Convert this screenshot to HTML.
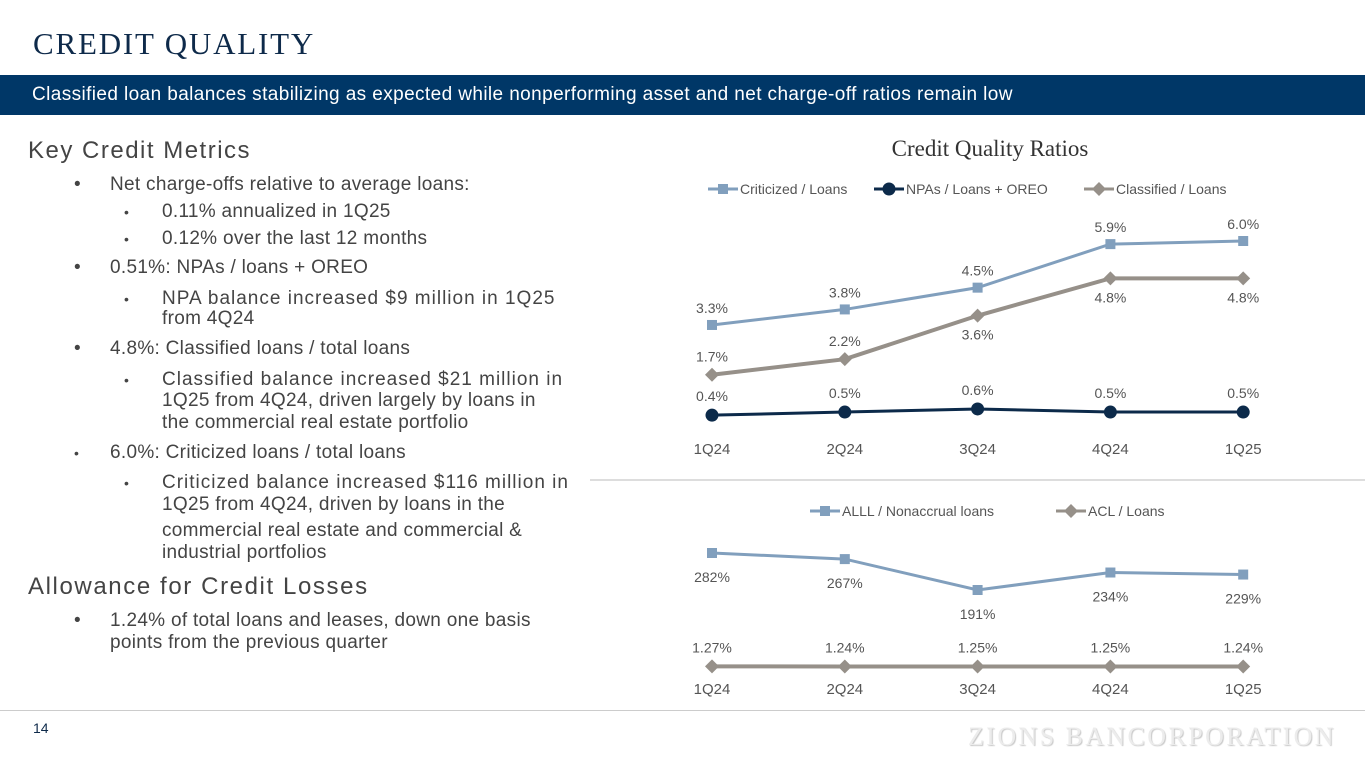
<!DOCTYPE html>
<html><head><meta charset="utf-8"><style>
body{margin:0;width:1365px;height:768px;position:relative;overflow:hidden;background:#fff;font-family:"Liberation Sans",sans-serif}
.t{position:absolute;white-space:nowrap;color:#444;font-size:19px;line-height:22px;letter-spacing:0.3px}
.w{letter-spacing:1px}
h1{position:absolute;left:33px;top:26px;margin:0;font-family:"Liberation Serif",serif;font-weight:normal;font-size:31px;color:#0e2a4a;letter-spacing:1.8px}
</style></head><body>
<h1>CREDIT QUALITY</h1>
<div style="position:absolute;left:0;top:75px;width:1365px;height:40px;background:#003767;color:#fff;font-size:19px;letter-spacing:0.4px;line-height:40px;padding-left:32px;box-sizing:border-box;white-space:nowrap">Classified loan balances stabilizing as expected while nonperforming asset and net charge-off ratios remain low</div>
<div>
<div class="t" style="left:28px;top:137px;font-size:24px;line-height:28px;letter-spacing:1.5px">Key Credit Metrics</div>
<div class="t" style="left:74px;top:174px">•</div><div class="t" style="left:110px;top:174px">Net charge-offs relative to average loans:</div>
<div class="t" style="left:124px;top:201px;font-size:14px">•</div><div class="t" style="left:162px;top:201px">0.11% annualized in 1Q25</div>
<div class="t" style="left:124px;top:228px;font-size:14px">•</div><div class="t" style="left:162px;top:228px">0.12% over the last 12 months</div>
<div class="t" style="left:74px;top:257px">•</div><div class="t" style="left:110px;top:257px">0.51%: NPAs / loans + OREO</div>
<div class="t" style="left:124px;top:288px;font-size:14px">•</div><div class="t w" style="left:162px;top:288px">NPA balance increased $9 million in 1Q25</div>
<div class="t" style="left:162px;top:308px">from 4Q24</div>
<div class="t" style="left:74px;top:338px">•</div><div class="t" style="left:110px;top:338px">4.8%: Classified loans / total loans</div>
<div class="t" style="left:124px;top:369px;font-size:14px">•</div><div class="t w" style="left:162px;top:369px">Classified balance increased $21 million in</div>
<div class="t" style="left:162px;top:390px">1Q25 from 4Q24, driven largely by loans in</div>
<div class="t" style="left:162px;top:412px">the commercial real estate portfolio</div>
<div class="t" style="left:74px;top:442px;font-size:14px">•</div><div class="t" style="left:110px;top:442px">6.0%: Criticized loans / total loans</div>
<div class="t" style="left:124px;top:472px;font-size:14px">•</div><div class="t w" style="left:162px;top:472px">Criticized balance increased $116 million in</div>
<div class="t" style="left:162px;top:494px">1Q25 from 4Q24, driven by loans in the</div>
<div class="t" style="left:162px;top:520px">commercial real estate and commercial &amp;</div>
<div class="t" style="left:162px;top:542px">industrial portfolios</div>
<div class="t" style="left:28px;top:573px;font-size:24px;line-height:28px;letter-spacing:1.6px">Allowance for Credit Losses</div>
<div class="t" style="left:74px;top:610px">•</div><div class="t" style="left:110px;top:610px">1.24% of total loans and leases, down one basis</div>
<div class="t" style="left:110px;top:632px">points from the previous quarter</div>
</div>
<div style="position:absolute;left:590px;top:479px;width:775px;height:2px;background:#ddd"></div>
<div style="position:absolute;left:0;top:710px;width:1365px;height:1px;background:#ccc"></div>
<div style="position:absolute;left:33px;top:720px;font-size:14px;color:#0e2a4a">14</div>
<div style="position:absolute;left:968px;top:722px;font-family:'Liberation Serif',serif;font-size:26px;color:#ececec;letter-spacing:2.4px;text-shadow:1px 1px 1px #c8c8c8">ZIONS BANCORPORATION</div>
<svg id="ch" style="position:absolute;left:0;top:0" width="1365" height="768"></svg>
<script>
const categories=["1Q24","2Q24","3Q24","4Q24","1Q25"];
const criticized=[3.3,3.8,4.5,5.9,6.0];
const npas=[0.4,0.5,0.6,0.5,0.5];
const classified=[1.7,2.2,3.6,4.8,4.8];
const alll=[282,267,191,234,229];
const acl=[1.27,1.24,1.25,1.25,1.24];
const svg=document.getElementById('ch');const NS='http://www.w3.org/2000/svg';
function x(i){return 712+i*132.8;}
function yTop(v){return 427.6-v*31.1;}
function yAlll(v){return 553-(v-282)*0.4066;}
function yAcl(v){return 666.5-(v-1.24)*5;}
function el(t,a,p){const e=document.createElementNS(NS,t);for(const k in a)e.setAttribute(k,a[k]);(p||svg).appendChild(e);return e;}
function txt(s,X,Y,o){const e=el('text',Object.assign({x:X,y:Y,'font-size':14,fill:'#555','text-anchor':'middle','font-family':'Liberation Sans, sans-serif'},o||{}));e.textContent=s;return e;}
const title=txt('Credit Quality Ratios',990,156,{'font-size':23,fill:'#333','font-family':'Liberation Serif, serif'});


function marker(shape,X,Y,c,g){
 if(shape==='sq')return el('rect',{x:X-5,y:Y-5,width:10,height:10,fill:c},g);
 if(shape==='ci')return el('circle',{cx:X,cy:Y,r:6.5,fill:c},g);
 return el('polygon',{points:`${X},${Y-7} ${X+7},${Y} ${X},${Y+7} ${X-7},${Y}`,fill:c},g);}
function series(name,vals,yf,c,shape,w,labelFn,fmt){
 const g=el('g',{});
 
 
 el('polyline',{points:vals.map((v,i)=>x(i)+','+yf(v)).join(' '),fill:'none',stroke:c,'stroke-width':w},g);
 vals.forEach((v,i)=>{const m=marker(shape,x(i),yf(v),c,g);
  
  
  txt(fmt(v),x(i),yf(v)+labelFn(i),{});});
}
series('criticized-series',criticized,yTop,'#819fbd','sq',3,()=>-12,v=>v.toFixed(1)+'%');
series('classified-series',classified,yTop,'#969089','di',4,i=>i>=2?24:-13,v=>v.toFixed(1)+'%');
series('npa-series',npas,yTop,'#0c2a4a','ci',3,i=>-14,v=>v.toFixed(1)+'%');
series('alll-series',alll,yAlll,'#819fbd','sq',3,()=>29,v=>v+'%');
series('acl-series',acl,yAcl,'#969089','di',4,()=>-14,v=>v.toFixed(2)+'%');
categories.forEach((c,i)=>{const a=txt(c,x(i),454,{'font-size':15});
 const b=txt(c,x(i),694,{'font-size':15});});
function legend(items,Y){items.forEach(([lx,c,sh,label])=>{const g=el('g',{});
 
 
 el('line',{x1:lx,y1:Y,x2:lx+30,y2:Y,stroke:c,'stroke-width':3},g);marker(sh,lx+15,Y,c,g);
 txt(label,lx+32,Y+5,{'text-anchor':'start'});});}
legend([[708,'#819fbd','sq','Criticized / Loans'],[874,'#0c2a4a','ci','NPAs / Loans + OREO'],[1084,'#969089','di','Classified / Loans']],189);
legend([[810,'#819fbd','sq','ALLL / Nonaccrual loans'],[1056,'#969089','di','ACL / Loans']],511);
</script>
</body></html>
